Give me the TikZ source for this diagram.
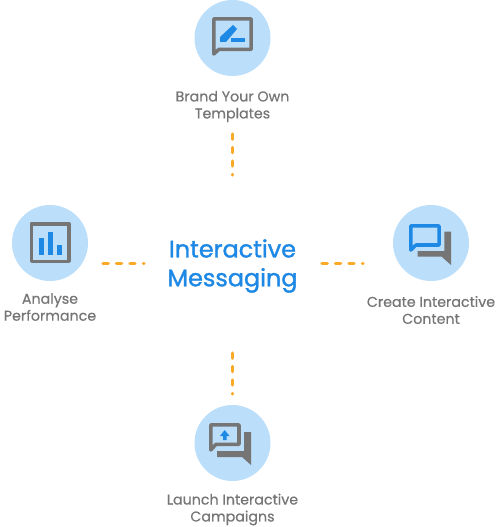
\documentclass[tikz,border=0pt]{standalone}
\usepackage{fontspec}
\setmainfont[FakeBold=0.6]{Poppins}
\newfontfamily\titlefont[FakeBold=1.4]{Poppins}
\usepackage{xcolor}
\usetikzlibrary{math}
\definecolor{qsky}{RGB}{187,222,251}
\definecolor{qblue}{RGB}{30,136,229}
\definecolor{qgray}{RGB}{117,117,117}
\definecolor{qorange}{RGB}{251,170,40}
\tikzset{
 disc/.style={circle,fill=qsky,minimum size=76*0.02cm,inner sep=0},
 caption/.style={color=qgray,align=center,font=\fontsize{8.1}{9.65}\selectfont,inner sep=0},
 link/.style={color=qorange,line width=1.8pt,line cap=round,dash pattern=on 3pt off 4.65pt},
 frame/.style={line width=2pt,line join=round},
}
\begin{document}
\begin{tikzpicture}[x=0.02cm,y=-0.02cm]
\tikzmath{
\R=38;
\Cx=232.5;
}
\useasboundingbox (0,0) rectangle (500,527);

%title:
 \node[color=qblue,align=center,font=\titlefont\fontsize{13.6}{16.4}\selectfont,inner sep=0] (title) at (\Cx,266) {Interactive\\Messaging};
%discs:
 \node[disc] (brand) at (\Cx,38) {};
 \node[disc] (analyse) at (50,243) {};
 \node[disc] (create) at (431,243) {};
 \node[disc] (launch) at (\Cx,443) {};
%captions:
 \node[caption] (brandtext) at (\Cx,106.5) {Brand Your Own\\Templates};
 \node[caption] (analysetext) at (50,307) {Analyse\\Performance};
 \node[caption] (createtext) at (431,310) {Create Interactive\\Content};
 \node[caption] (launchtext) at (\Cx,509.5) {Launch Interactive\\Campaigns};
%dashes:
 \coordinate (brandend) at (\Cx,134);
 \coordinate (brandstart) at (\Cx,175);
 \coordinate (launchend) at (\Cx,353);
 \coordinate (launchstart) at (\Cx,394);
 \coordinate (analysestart) at (144,263.5);
 \coordinate (analyseend) at (103,263.5);
 \coordinate (createstart) at (322,263.5);
 \coordinate (createend) at (363,263.5);
 \foreach \a/\b in {brandend/brandstart,launchend/launchstart,analyseend/analysestart,createstart/createend}{
  \draw[link] (\a) -- (\b);
 }
%brand icon
 \draw[frame,color=qgray] (213.8,18.8) -- (251.2,18.8) -- (251.2,49.3) -- (219,49.3) -- (213.8,54) -- cycle;
 \fill[color=qblue] (220,42) -- (220,37) -- (233,25) -- (237,29) -- (226,42) -- cycle;
 \fill[color=qblue] (231,38) rectangle (245,42);
%analyse icon
 \draw[frame,color=qgray] (31.3,223.8) rectangle (69,261.3);
 \foreach \l/\t/\r in {38.5/238/44,47.5/232/52.7,57/245/61.7}{
  \fill[color=qblue] (\l,\t) rectangle (\r,254.5);
 }
%create icon
 \draw[frame,color=qblue] (410.8,225.8) -- (439,225.8) -- (439,245) -- (416,245) -- (410.8,250) -- cycle;
 \fill[color=qgray] (444.3,231.7) -- (451,231.7) -- (451,265) -- (441.7,256.7) -- (417.7,256.7) -- (417.7,251) -- (444.3,251) -- cycle;
%launch icon
 \draw[frame,color=qgray] (210.8,424.8) -- (239,424.8) -- (239,444.3) -- (216,444.3) -- (210.8,450) -- cycle;
 \fill[color=qgray] (244,432) -- (251,432) -- (251,465) -- (242,457) -- (217,457) -- (217,451) -- (244,451) -- cycle;
 \fill[color=qblue] (224.7,430) -- (229.5,436) -- (226.5,436) -- (226.5,440) -- (223,440) -- (223,436) -- (220,436) -- cycle;
\end{tikzpicture}
\end{document}
